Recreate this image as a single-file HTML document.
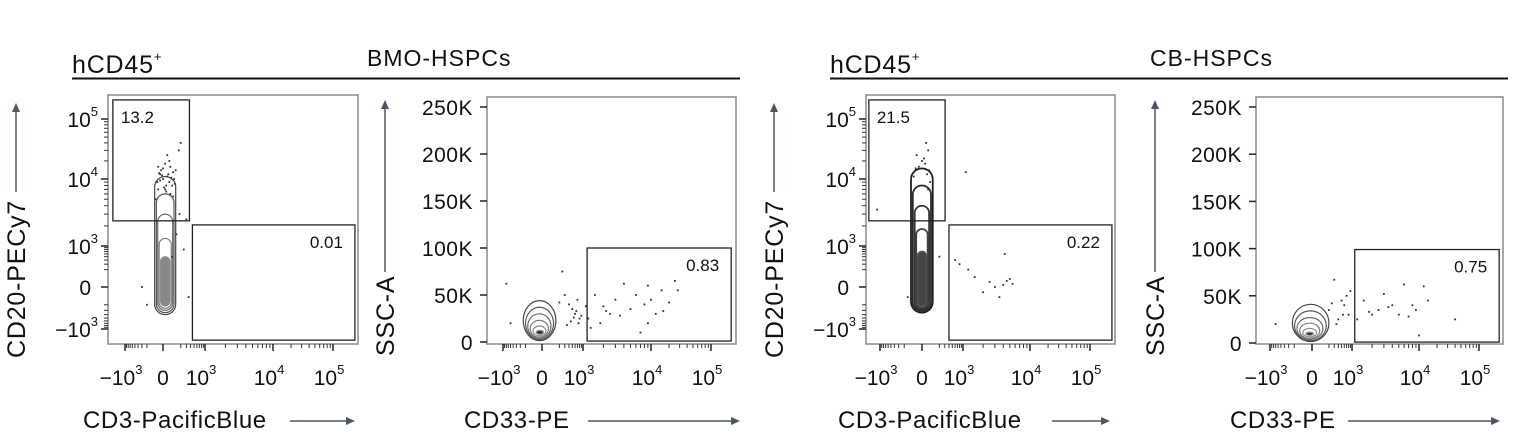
<!DOCTYPE html>
<html><head><meta charset="utf-8">
<style>
html,body{margin:0;padding:0;background:#fff;}
svg{display:block;font-family:"Liberation Sans",sans-serif;}
</style></head>
<body>
<svg id="fig" width="1520" height="436" viewBox="0 0 1520 436" xmlns="http://www.w3.org/2000/svg"></svg>
<script>
// ---------- DATA ----------
const groupTitles = ["BMO-HSPCs", "CB-HSPCs"];
const headerLabel = "hCD45";
const logTickValues = [-1000, 0, 1000, 10000, 100000];
const logTickExps = ["3", "", "3", "4", "5"];
const sscTickValues = [0, 50000, 100000, 150000, 200000, 250000];
const sscTickLabels = ["0", "50K", "100K", "150K", "200K", "250K"];

// gates: [xmin, xmax, ymin, ymax] in data units, with percent labels
const p1Gates = [[-2300, 370, 2380, 208000], [450, 232000, -2000, 2070]];
const p1Pcts = ["13.2", "0.01"];
const p2Gates = [[1150, 217000, 1000, 100000]];
const p2Pcts = ["0.83"];
const p3Gates = [[-2000, 306, 2380, 208000], [400, 232000, -2000, 2070]];
const p3Pcts = ["21.5", "0.22"];
const p4Gates = [[1100, 217000, 1000, 99000]];
const p4Pcts = ["0.75"];

// contour levels: [xmin, xmax, ymin, ymax]
const p1Contours = [[-90,130,-400,11000],[-70,110,-350,6000],[-55,95,-300,3000],[-40,80,-260,1300],[-25,65,-220,500]];
const p3Contours = [[-110,110,-350,15000],[-90,90,-310,8000],[-70,70,-280,4000],[-55,55,-250,1800],[-40,40,-220,700]];
const p2Contours = [[-240,150,1500,44000],[-200,120,2500,37000],[-165,90,3800,30000],[-130,62,5000,23000],[-95,38,6500,17000],[-60,15,8000,12500]];
const p4Contours = [[-230,200,1500,41000],[-195,160,2500,34000],[-160,115,3800,27000],[-125,78,5000,21000],[-90,45,6500,15500],[-58,15,8000,11500]];

// events (x, y)
const p1EventsX = [-60,-30,0,40,90,110,-50,20,70,100,-30,60,130,-80,10,80,-50,120,40,-10,170,100,-40,30,60,200,300,-200,250,350,-300,180,140,90,0,30,50,-20,70,20];
const p1EventsY = [9000,12000,15000,11000,8000,10000,7000,18000,6000,13000,9500,20000,14000,5000,7500,10500,16000,8500,25000,11500,30000,5500,12500,6500,9000,40000,2500,-200,800,-100,0,3000,1500,500,10000,8000,12000,14000,16000,7000];
const p2EventsX = [1500,2000,2500,3000,4000,5000,6000,8000,9000,10000,12000,15000,20000,25000,28000,1200,1800,3500,7000,9000,16000,1300,2200,400,600,800,300,500,700,900,-600,-800,250,450,1100,350,550,650,200,750];
const p2EventsY = [50000,38000,30000,45000,62000,35000,50000,40000,60000,45000,30000,55000,42000,65000,55000,25000,20000,28000,10000,20000,33000,15000,33000,40000,30000,25000,50000,35000,45000,28000,20000,62000,75000,22000,38000,18000,26000,33000,42000,20000];
const p3EventsX = [1500,2000,2500,3000,3500,4000,4500,5000,5500,4200,800,1200,600,1100,-1200,-60,0,50,80,-50,70,60,30,-80,40,60,200,-150,-30,20];
const p3EventsY = [100,-50,50,0,-100,20,60,80,30,600,300,200,400,13000,3500,15000,20000,12000,9000,25000,14000,30000,18000,11000,40000,7000,500,-100,16000,22000];
const p4EventsX = [1500,2000,2500,3000,4000,5000,6000,8000,9000,12000,14000,40000,10000,1200,1800,3500,7000,600,800,500,300,900,-700,200,400,700,350,550,250];
const p4EventsY = [45000,30000,35000,52000,40000,30000,62000,40000,35000,60000,45000,25000,8000,25000,33000,38000,28000,40000,30000,45000,67000,55000,20000,35000,25000,50000,20000,30000,42000];

// ---------- LAYOUT ----------
const NS = "http://www.w3.org/2000/svg";
const svg = document.getElementById("fig");
function el(tag, attrs, parent){
  const e = document.createElementNS(NS, tag);
  for (const k in attrs) e.setAttribute(k, attrs[k]);
  (parent || svg).appendChild(e);
  return e;
}
const tf = v => Math.asinh(v / 150);
function logScale(pix){
  const ts = logTickValues.map(tf);
  return v => {
    const t = tf(v);
    let i = 0;
    if (t <= ts[0]) i = 0; else if (t >= ts[ts.length-1]) i = ts.length-2;
    else { while (!(t >= ts[i] && t <= ts[i+1])) i++; }
    return pix[i] + (t - ts[i]) / (ts[i+1] - ts[i]) * (pix[i+1] - pix[i]);
  };
}
function linScale(p0, p1){ return v => p0 + (v / 250000) * (p1 - p0); }

const panels = [
  {name:"bmo-cd20-vs-cd3", fx:108, fy:95, fx2:358, fy2:344, xs:logScale([125,163,205,273,333]), ys:logScale([329,287,246,179,119]), ylog:true,
   gates:p1Gates, pcts:p1Pcts, contours:p1Contours, ex:p1EventsX, ey:p1EventsY, xt:"CD3-PacificBlue", yt:"CD20-PECy7", xtX:83, arr:[290,355], ytX:25, ytY:358, yarr:[192,103], dark:false},
  {name:"bmo-ssc-vs-cd33", fx:487, fy:97, fx2:736, fy2:344, xs:logScale([503,542,583,651,711]), ys:linScale(342,107), ylog:false,
   gates:p2Gates, pcts:p2Pcts, contours:p2Contours, ex:p2EventsX, ey:p2EventsY, xt:"CD33-PE", yt:"SSC-A", xtX:464, arr:[588,740], ytX:394, ytY:356, yarr:[272,100]},
  {name:"cb-cd20-vs-cd3", fx:866, fy:95, fx2:1115, fy2:344, xs:logScale([880,922,963,1030,1090]), ys:logScale([329,287,246,179,119]), ylog:true,
   gates:p3Gates, pcts:p3Pcts, contours:p3Contours, ex:p3EventsX, ey:p3EventsY, xt:"CD3-PacificBlue", yt:"CD20-PECy7", xtX:838, arr:[1052,1110], ytX:783, ytY:358, yarr:[192,103], dark:true},
  {name:"cb-ssc-vs-cd33", fx:1256, fy:97, fx2:1503, fy2:344, xs:logScale([1270,1312,1352,1419,1479]), ys:linScale(343,107), ylog:false,
   gates:p4Gates, pcts:p4Pcts, contours:p4Contours, ex:p4EventsX, ey:p4EventsY, xt:"CD33-PE", yt:"SSC-A", xtX:1230, arr:[1348,1500], ytX:1164, ytY:356, yarr:[272,100]}
];

[[72, 740, 367], [830, 1508, 1150]].forEach((h, gi) => {
  const g = el("g", {});
  
  
  const t = el("text", {x:h[0], y:73, "font-size":25, fill:"#111", "letter-spacing":0.8}, g);
  t.textContent = headerLabel;
  const sup = el("tspan", {"font-size":13, dy:-12}, t); sup.textContent = "+";
  const tt = el("text", {x:h[2], y:66, "font-size":23, fill:"#111", "letter-spacing":1}, g);
  tt.textContent = groupTitles[gi];
  el("line", {x1:h[0], x2:h[1], y1:78.5, y2:78.5, stroke:"#111", "stroke-width":2}, g);
});

function arrowH(g, x1, x2, y){
  el("line", {x1:x1, x2:x2-2, y1:y, y2:y, stroke:"#4a5666", "stroke-width":1.5}, g);
  el("path", {d:`M${x2} ${y} L${x2-9} ${y-4} L${x2-9} ${y+4} Z`, fill:"#4a5666"}, g);
}
function arrowV(g, x, y1, y2){
  el("line", {x1:x, x2:x, y1:y1, y2:y2+2, stroke:"#4a5666", "stroke-width":1.5}, g);
  el("path", {d:`M${x} ${y2} L${x-4} ${y2+9} L${x+4} ${y2+9} Z`, fill:"#4a5666"}, g);
}
function logLabel(parent, x, y, i, anchor){
  const t = el("text", {x:x, y:y, "font-size":21, fill:"#111", "text-anchor":anchor}, parent);
  const v = logTickValues[i];
  if (v === 0) { t.textContent = "0"; return t; }
  t.appendChild(document.createTextNode((v < 0 ? "\u2212" : "") + "10"));
  const s = el("tspan", {"font-size":13, dy:-11}, t); s.textContent = logTickExps[i];
  return t;
}
function minorLogValues(){
  const out = [];
  for (let n = 2; n <= 4; n++) for (let k = 2; k <= 9; k++) out.push(k * Math.pow(10, n));
  for (let k = 2; k <= 9; k++) out.push(-k * 100);
  return out;
}

panels.forEach((p, pi) => {
  const g = el("g", {});
  
  
  const {xs, ys} = p;
  const fr = el("rect", {x:p.fx, y:p.fy, width:p.fx2-p.fx, height:p.fy2-p.fy, fill:"none", stroke:"#8a8a8a", "stroke-width":1.5}, g);
  
  
  const xa = el("g", {}, g);
  
  
  minorLogValues().forEach(v => {
    const x = xs(v);
    el("line", {x1:x, x2:x, y1:p.fy2, y2:p.fy2+4, stroke:"#333", "stroke-width":1}, xa);
  });
  logTickValues.forEach((v, i) => {
    const x = xs(v);
    el("line", {x1:x, x2:x, y1:p.fy2, y2:p.fy2+7, stroke:"#222", "stroke-width":1.5}, xa);
    const lab = logLabel(xa, x - (v === 0 ? 0 : 4), 385, i, "middle");
    
    
  });
  const ya = el("g", {}, g);
  
  
  if (p.ylog) {
    minorLogValues().forEach(v => {
      const y = ys(v);
      el("line", {x1:p.fx-4, x2:p.fx, y1:y, y2:y, stroke:"#333", "stroke-width":1}, ya);
    });
    logTickValues.forEach((v, i) => {
      const y = ys(v);
      el("line", {x1:p.fx-7, x2:p.fx, y1:y, y2:y, stroke:"#222", "stroke-width":1.5}, ya);
      const lab = logLabel(ya, p.fx - (v === 0 ? 17 : 10), y + 8, i, "end");
      
      
    });
  } else {
    sscTickValues.forEach((v, i) => {
      const y = ys(v);
      el("line", {x1:p.fx-7, x2:p.fx, y1:y, y2:y, stroke:"#222", "stroke-width":1.5}, ya);
      const lab = el("text", {x:p.fx-14, y:y+8, "font-size":21, fill:"#111", "text-anchor":"end", "letter-spacing":0.5}, ya);
      lab.textContent = sscTickLabels[i];
      
      
    });
  }
  const cg = el("g", {}, g);
  
  
  p.contours.forEach((c, i) => {
    const x1 = xs(c[0]), x2 = xs(c[1]), y1 = ys(c[3]), y2 = ys(c[2]);
    const rx = (x2 - x1) / 2;
    const shade = p.dark ? 30 + i * 12 : 70 + i * 18;
    const last = i === p.contours.length-1;
    const r = el("rect", {x:x1, y:y1, width:x2-x1, height:y2-y1, rx:rx, ry:p.ylog ? rx : (y2-y1)/2,
      fill:last ? (p.ylog ? (p.dark ? "#444" : "#888") : "#333") : "none",
      stroke:`rgb(${shade},${shade},${shade})`, "stroke-width":p.dark ? 1.8 : 1.2}, cg);
    
    
  });
  const eg = el("g", {}, g);
  
  
  p.ex.forEach((vx, i) => {
    const d = el("rect", {x:xs(vx)-0.9, y:ys(p.ey[i])-0.9, width:1.8, height:1.8, fill:"#333"}, eg);
    
    
  });
  p.gates.forEach((gt, i) => {
    const x1 = xs(gt[0]), x2 = xs(gt[1]), y1 = ys(gt[3]), y2 = ys(gt[2]);
    const r = el("rect", {x:x1, y:y1, width:x2-x1, height:y2-y1, fill:"none", stroke:"#222", "stroke-width":1.3}, g);
    
    
    const leftLabel = (p.ylog && i === 0);
    const t = el("text", {x:leftLabel ? x1+8 : x2-12, y:y1+23, "font-size":17, fill:"#111", "text-anchor":leftLabel ? "start" : "end"}, g);
    t.textContent = p.pcts[i];
    
    
  });
  const xt = el("text", {x:p.xtX, y:428, "font-size":24, fill:"#111", "letter-spacing":0.6}, g);
  xt.textContent = p.xt;
  
  
  arrowH(g, p.arr[0], p.arr[1], 421);
  const yt = el("text", {x:0, y:0, "font-size":25, fill:"#111", "letter-spacing":0.8, transform:`translate(${p.ytX},${p.ytY}) rotate(-90)`}, g);
  yt.textContent = p.yt;
  
  
  arrowV(g, p.ytX - 9, p.yarr[0], p.yarr[1]);
});
</script>
</body></html>
